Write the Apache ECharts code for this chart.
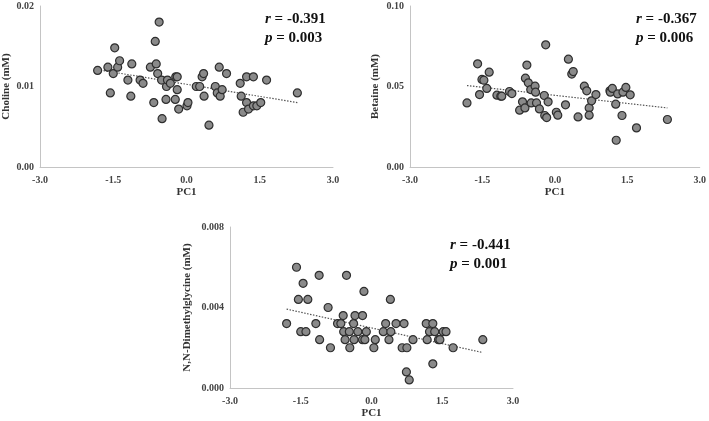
<!DOCTYPE html>
<html>
<head>
<meta charset="utf-8">
<script src="https://cdn.jsdelivr.net/npm/echarts@6/dist/echarts.min.js"></script>
<style>
  html, body { margin: 0; padding: 0; background: #fff; }
  #chart { width: 709px; height: 421px; }
</style>
</head>
<body>
<div id="chart"></div>
<script>
// PC1 vs metabolite
const cholinePoints = [
  [-1.82, 0.0120], [-1.61, 0.0124], [-1.50, 0.0116], [-1.47, 0.0148], [-1.41, 0.0124],
  [-1.37, 0.0132], [-1.56, 0.0092], [-1.20, 0.0108], [-1.12, 0.0128], [-1.14, 0.0088],
  [-0.95, 0.0108], [-0.89, 0.0104], [-0.74, 0.0124], [-0.67, 0.0080], [-0.64, 0.0156],
  [-0.62, 0.0128], [-0.59, 0.0116], [-0.56, 0.0180], [-0.51, 0.0108], [-0.50, 0.0060],
  [-0.42, 0.0084], [-0.41, 0.0100], [-0.39, 0.0108], [-0.33, 0.0104], [-0.23, 0.0084],
  [-0.22, 0.0112], [-0.19, 0.0112], [-0.19, 0.0096], [-0.16, 0.0072], [0.01, 0.0076],
  [0.03, 0.0080], [0.20, 0.0100], [0.27, 0.0100], [0.32, 0.0112], [0.35, 0.0116],
  [0.36, 0.0088], [0.46, 0.0052], [0.59, 0.0100], [0.63, 0.0092], [0.67, 0.0124],
  [0.69, 0.0088], [0.73, 0.0096], [0.82, 0.0116], [1.10, 0.0104], [1.12, 0.0088],
  [1.16, 0.0068], [1.23, 0.0112], [1.23, 0.0080], [1.27, 0.0072], [1.37, 0.0076],
  [1.37, 0.0112], [1.44, 0.0076], [1.52, 0.0080], [1.64, 0.0108], [2.27, 0.0092]
];
const betainePoints = [
  [-1.82, 0.0398], [-1.60, 0.0641], [-1.56, 0.0450], [-1.51, 0.0544], [-1.47, 0.0539],
  [-1.41, 0.0488], [-1.36, 0.0589], [-1.20, 0.0446], [-1.12, 0.0440], [-1.10, 0.0440],
  [-0.94, 0.0469], [-0.89, 0.0456], [-0.73, 0.0353], [-0.67, 0.0405], [-0.62, 0.0367],
  [-0.61, 0.0552], [-0.58, 0.0633], [-0.55, 0.0523], [-0.50, 0.0481], [-0.49, 0.0398],
  [-0.41, 0.0502], [-0.40, 0.0465], [-0.38, 0.0398], [-0.32, 0.0361], [-0.22, 0.0444],
  [-0.21, 0.0320], [-0.19, 0.0759], [-0.17, 0.0307], [-0.14, 0.0405], [0.03, 0.0340],
  [0.06, 0.0322], [0.22, 0.0386], [0.28, 0.0670], [0.35, 0.0577], [0.38, 0.0593],
  [0.48, 0.0311], [0.61, 0.0502], [0.66, 0.0473], [0.71, 0.0367], [0.71, 0.0322],
  [0.76, 0.0411], [0.85, 0.0450], [1.14, 0.0473], [1.15, 0.0465], [1.19, 0.0488],
  [1.26, 0.0390], [1.27, 0.0166], [1.30, 0.0454], [1.39, 0.0320], [1.41, 0.0465],
  [1.47, 0.0494], [1.56, 0.0448], [1.69, 0.0243], [2.33, 0.0295]
];
const dmgPoints = [
  [-1.80, 0.0032], [-1.59, 0.0060], [-1.55, 0.0044], [-1.50, 0.0028], [-1.45, 0.0052],
  [-1.39, 0.0028], [-1.35, 0.0044], [-1.18, 0.0032], [-1.11, 0.0056], [-1.10, 0.0024],
  [-0.92, 0.0040], [-0.87, 0.0020], [-0.72, 0.0032], [-0.65, 0.0032], [-0.60, 0.0036],
  [-0.59, 0.0028], [-0.56, 0.0024], [-0.53, 0.0056], [-0.47, 0.0028], [-0.46, 0.0020],
  [-0.38, 0.0032], [-0.37, 0.0024], [-0.35, 0.0036], [-0.29, 0.0028], [-0.19, 0.0036],
  [-0.19, 0.0024], [-0.16, 0.0048], [-0.14, 0.0024], [-0.11, 0.0028], [0.05, 0.0020],
  [0.08, 0.0024], [0.25, 0.0028], [0.30, 0.0032], [0.37, 0.0024], [0.40, 0.0044],
  [0.41, 0.0028], [0.52, 0.0032], [0.65, 0.0020], [0.69, 0.0032], [0.74, 0.0008],
  [0.75, 0.0020], [0.80, 0.0004], [0.88, 0.0024], [1.16, 0.0032], [1.18, 0.0024],
  [1.23, 0.0028], [1.30, 0.0032], [1.30, 0.0012], [1.34, 0.0028], [1.42, 0.0024],
  [1.45, 0.0024], [1.52, 0.0028], [1.58, 0.0028], [1.73, 0.0020], [2.36, 0.0024]
];

// dotted trend line ends
const cholineTrend = [[-1.82, 0.0121], [2.27, 0.0080]];
const betaineTrend = [[-1.82, 0.0506], [2.33, 0.0367]];
const dmgTrend = [[-1.80, 0.00392], [2.36, 0.00176]];

const xTicks = ['-3.0', '-1.5', '0.0', '1.5', '3.0'];
const yMax = [0.02, 0.10, 0.008];
const yDecimals = [2, 2, 3];
const yNames = ['Choline (mM)', 'Betaine (mM)', 'N,N-Dimethylglycine (mM)'];
const stats = [
  { r: '-0.391', p: '0.003' },
  { r: '-0.367', p: '0.006' },
  { r: '-0.441', p: '0.001' }
];

const FONT = '"Liberation Serif", "Times New Roman", serif';
const grids = [
  { left: 39, top: 6, width: 294, height: 161 },
  { left: 410, top: 6, width: 291, height: 161 },
  { left: 230, top: 227, width: 283, height: 161 }
];
const yNameGaps = [28, 29, 37];
const statPos = [[265, 10], [636, 10], [450, 236]];

const chart = echarts.init(document.getElementById('chart'));

const xAxis = grids.map((g, i) => ({
  gridIndex: i,
  type: 'value',
  min: -3, max: 3, interval: 1.5,
  name: 'PC1',
  nameLocation: 'middle',
  nameGap: 20,
  nameTextStyle: { fontFamily: FONT, fontWeight: 'bold', fontSize: 11, color: '#333' },
  axisLine: { onZero: false, lineStyle: { color: '#c4c4c4', width: 1 } },
  axisTick: { show: false },
  splitLine: { show: false },
  axisLabel: {
    margin: 8,
    fontFamily: FONT, fontWeight: 'bold', fontSize: 10, color: '#444',
    formatter: v => xTicks[Math.round((v + 3) / 1.5)]
  }
}));

const yAxis = grids.map((g, i) => ({
  gridIndex: i,
  type: 'value',
  min: 0, max: yMax[i], interval: yMax[i] / 2,
  name: yNames[i],
  nameLocation: 'middle',
  nameRotate: 90,
  nameGap: yNameGaps[i],
  nameTextStyle: { fontFamily: FONT, fontWeight: 'bold', fontSize: 11, color: '#333' },
  axisLine: { show: true, onZero: false, lineStyle: { color: '#c4c4c4', width: 1 } },
  axisTick: { show: false },
  splitLine: { show: false },
  axisLabel: {
    margin: 6,
    fontFamily: FONT, fontWeight: 'bold', fontSize: 10, color: '#444',
    formatter: v => v.toFixed(yDecimals[i])
  }
}));

const pointSets = [cholinePoints, betainePoints, dmgPoints];
const trendSets = [cholineTrend, betaineTrend, dmgTrend];
const series = [];
pointSets.forEach((pts, i) => {
  series.push({
    type: 'line',
    xAxisIndex: i, yAxisIndex: i,
    data: trendSets[i],
    symbol: 'none',
    silent: true,
    lineStyle: { color: '#555', width: 1.2, type: [1.5, 1.5] },
    z: 1
  });
  series.push({
    type: 'scatter',
    xAxisIndex: i, yAxisIndex: i,
    data: pts,
    symbolSize: 8,
    itemStyle: { color: '#8a8a8a', borderColor: '#2e2e2e', borderWidth: 1.2, opacity: 1 },
    z: 2
  });
});

const graphic = stats.map((s, i) => ({
  type: 'text',
  left: statPos[i][0],
  top: statPos[i][1],
  style: {
    text: '{i|r} = ' + s.r + '\n{i|p} = ' + s.p,
    font: 'bold 15px ' + FONT,
    fill: '#111',
    lineHeight: 19,
    rich: {
      i: { fontStyle: 'italic', fontWeight: 'bold', fontSize: 15, fontFamily: FONT, fill: '#111' }
    }
  }
}));

chart.setOption({
  animation: false,
  backgroundColor: '#fff',
  grid: grids,
  xAxis: xAxis,
  yAxis: yAxis,
  series: series,
  graphic: graphic
});
</script>
</body>
</html>
